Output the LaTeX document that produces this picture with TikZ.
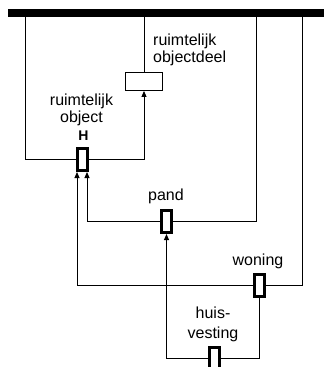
\documentclass[tikz,border=0pt]{standalone}
\usepackage{fontspec}
\setmainfont{Liberation Sans}
\usetikzlibrary{arrows.meta}
\begin{document}
\begin{tikzpicture}[x=1pt,y=-1pt,
  conn/.style={line width=0.9pt, draw=black},
  arr/.style={conn, -{Triangle[length=6pt,width=5pt]}},
  heavybox/.style={draw, line width=3pt, fill=white, minimum width=10pt, minimum height=22pt, inner sep=0pt},
  thinbox/.style={draw, line width=0.9pt, fill=white, minimum width=37pt, minimum height=18pt, inner sep=0pt},
  lbl/.style={font=\fontsize{16}{16.3}\selectfont, align=center, inner sep=0pt}]
\useasboundingbox (0,0) rectangle (324,367);
\clip (0,0) rectangle (324,367);
% boxes
\node[thinbox] (rod) at (144,81.5) {};
\node[heavybox] (H) at (82.5,159.5) {};
\node[heavybox] (pand) at (166.5,221.5) {};
\node[heavybox] (won) at (259,285.5) {};
\node[heavybox] (hv) at (214,358) {};
% drop points on the bar
\coordinate (barL) at (8,13);
\coordinate (barR) at (324,13);
\coordinate (b1) at (25.7,13);
\coordinate (b2) at (144,13);
\coordinate (b3) at (256,13);
\coordinate (b4) at (302,13);
% connectors
\draw[conn] (b1) |- (H.west);
\draw[arr] (H.east) -| (rod.south);
\draw[conn] (b2) -- (rod.north);
\draw[conn] (b3) |- (pand.east);
\draw[arr] (pand.west) -| ([xshift=4.5pt]H.south);
\draw[conn] (b4) |- (won.east);
\draw[arr] (won.west) -| ([xshift=-5.5pt]H.south);
\draw[conn] (won.south) |- (hv.east);
\draw[arr] (hv.west) -| (pand.south);
% redraw boxes on top
\node[thinbox] at (rod) {};
\node[heavybox] at (H) {};
\node[heavybox] at (pand) {};
\node[heavybox] at (won) {};
\node[heavybox] at (hv) {};
% bar
\draw[line width=7.5pt] (barL) -- (barR);
% labels
\node[lbl, align=left, anchor=west] (lrod) at (153,49.8) {ruimtelijk\\objectdeel};
\node[lbl] (lro) at (81.5,109.8) {ruimtelijk\\object};
\node[lbl, font=\fontsize{14}{16}\selectfont\bfseries] (lH) at (83.5,136) {H};
\node[lbl] (lpand) at (166,196.7) {pand};
\node[lbl] (lwon) at (258,261.5) {woning};
\node[lbl] (lhv) at (213,324.5) {huis-\\[3.2pt]vesting};
\end{tikzpicture}
\end{document}
